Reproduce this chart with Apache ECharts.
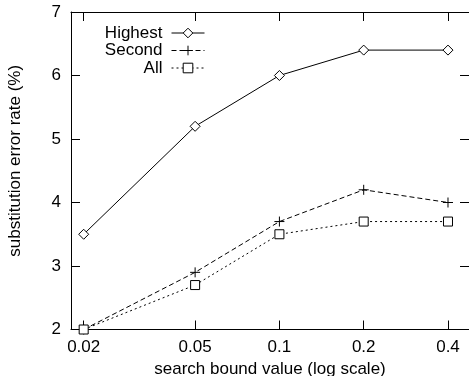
<!DOCTYPE html>
<html>
<head>
<meta charset="utf-8">
<script src="https://cdn.jsdelivr.net/npm/echarts@6/dist/echarts.min.js"></script>
<style>html,body{margin:0;padding:0;background:#fff}#c{width:469px;height:376px}</style>
</head>
<body>
<div id="c"></div>
<script>
const xValues = [0.02, 0.05, 0.1, 0.2, 0.4];
const xTickLabels = ['0.02', '0.05', '0.1', '0.2', '0.4'];
const highest = [3.5, 5.2, 6.0, 6.4, 6.4];
const second = [2.0, 2.9, 3.7, 4.2, 4.0];
const allVals = [2.0, 2.7, 3.5, 3.7, 3.7];
const seriesNames = ['Highest', 'Second', 'All'];

const FONT = '"Liberation Sans", Arial, Helvetica, sans-serif';
const lg = v => Math.log10(v);
const xTickPos = xValues.map(lg);
const xMin = lg(0.01802), xMax = lg(0.4754);
function xLabel(v) {
  let best = 0, d = Infinity;
  xTickPos.forEach((p, i) => { const dd = Math.abs(p - v); if (dd < d) { d = dd; best = i; } });
  return xTickLabels[best];
}
const pairs = arr => xValues.map((x, i) => [lg(x), arr[i]]);
const plusPath = 'path://M0,5L10,5M5,0L5,10';
const diamondPath = 'path://M5,0L10,5L5,10L0,5Z';
const squarePath = 'path://M0,0L10,0L10,10L0,10Z';

const chart = echarts.init(document.getElementById('c'), null, {renderer: 'canvas'});
const axisCommonX = {
  type: 'value', min: xMin, max: xMax,
  axisLine: {show: true, onZero: false, lineStyle: {color: '#000', width: 1}},
  axisTick: {show: true, inside: true, length: 9, customValues: xTickPos, lineStyle: {color: '#000'}},
  splitLine: {show: false}
};
chart.setOption({
  animation: false,
  backgroundColor: '#fff',
  textStyle: {fontFamily: FONT},
  grid: {left: 71, right: 0, top: 12, bottom: 46.5, show: false, containLabel: false, outerBoundsMode: 'none'},
  legend: {
    orient: 'vertical', align: 'right', right: 264, top: 24.25, padding: 0,
    itemWidth: 33, itemHeight: 12, itemGap: 0,
    lineStyle: {width: 1},
    itemStyle: {borderWidth: 1},
    textStyle: {fontFamily: FONT, fontSize: 17, lineHeight: 17.5, color: '#000', padding: [0, 4, 0, 0]},
    data: seriesNames
  },
  xAxis: [
    Object.assign({}, axisCommonX, {
      position: 'bottom',
      axisLabel: {show: true, customValues: xTickPos, formatter: xLabel, margin: 9, color: '#000', fontSize: 17, fontFamily: FONT},
      name: 'search bound value (log scale)', nameLocation: 'middle', nameGap: 23,
      nameTextStyle: {fontSize: 17, color: '#000', fontFamily: FONT}
    }),
    Object.assign({}, axisCommonX, {
      position: 'top',
      axisLabel: {show: false}
    })
  ],
  yAxis: [
    {
      type: 'value', min: 2, max: 7, interval: 1, position: 'left',
      axisLine: {show: true, onZero: false, lineStyle: {color: '#000', width: 1}},
      axisTick: {show: true, inside: true, length: 9, lineStyle: {color: '#000'}},
      axisLabel: {margin: 10, color: '#000', fontSize: 17, fontFamily: FONT},
      splitLine: {show: false},
      name: 'substitution error rate (%)', nameLocation: 'middle', nameGap: 47, nameRotate: 90,
      nameTextStyle: {fontSize: 17, color: '#000', fontFamily: FONT, padding: [0, 0, 0, 20]}
    },
    {
      type: 'value', min: 2, max: 7, interval: 1, position: 'right',
      axisLine: {show: true, onZero: false, lineStyle: {color: '#000', width: 1}},
      axisTick: {show: true, inside: true, length: 9, lineStyle: {color: '#000'}},
      axisLabel: {show: false},
      splitLine: {show: false}
    }
  ],
  series: [
    {
      name: seriesNames[0], type: 'line', data: pairs(highest),
      symbol: diamondPath, symbolSize: 10, showAllSymbol: true,
      lineStyle: {color: '#000', width: 1, type: 'solid'},
      itemStyle: {color: '#fff', borderColor: '#000', borderWidth: 1},
      z: 3
    },
    {
      name: seriesNames[1], type: 'line', data: pairs(second),
      symbol: plusPath, symbolSize: 10, showAllSymbol: true,
      lineStyle: {color: '#000', width: 1, type: [5, 3]},
      itemStyle: {color: '#000', borderColor: '#000', borderWidth: 1},
      z: 3
    },
    {
      name: seriesNames[2], type: 'line', data: pairs(allVals),
      symbol: squarePath, symbolSize: 9, showAllSymbol: true,
      lineStyle: {color: '#000', width: 1, type: [2, 3]},
      itemStyle: {color: '#fff', borderColor: '#000', borderWidth: 1},
      z: 3
    }
  ]
});
</script>
</body>
</html>
